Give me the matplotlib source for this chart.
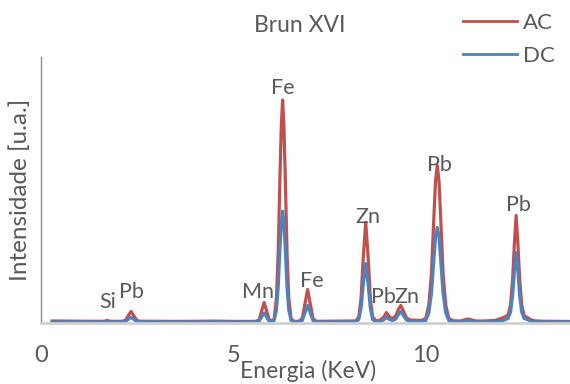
import matplotlib
matplotlib.use("Agg")
import matplotlib.pyplot as plt

plt.rcParams["font.family"] = ["Lato", "DejaVu Sans"]

TEXT = "#595959"
RED = "#C0504D"
BLUE = "#4F81BD"

# EDXRF spectrum sampled along the energy axis (keV), intensities in a.u.
energy = [
    0.29, 1.00, 1.50, 1.65, 1.72, 1.80, 2.10,
    2.14, 2.21, 2.28, 2.34, 2.40, 2.47, 2.54,
    3.00, 3.50, 4.00, 4.50, 5.00, 5.50,
    5.58, 5.67, 5.735, 5.80, 5.865, 5.93,
    6.00, 6.06, 6.12, 6.165, 6.21, 6.245, 6.28, 6.315, 6.35, 6.395, 6.44, 6.50, 6.58,
    6.70, 6.79, 6.855, 6.93, 7.005, 7.07, 7.16,
    7.50, 8.00,
    8.18, 8.26, 8.32, 8.375, 8.44, 8.505, 8.56, 8.62, 8.70,
    8.80, 8.90, 8.98, 9.06, 9.14, 9.22, 9.28, 9.35, 9.42, 9.50, 9.60,
    9.88, 10.00, 10.08, 10.15, 10.205, 10.255, 10.30, 10.345, 10.395, 10.45, 10.52, 10.60, 10.72,
    10.90, 11.10, 11.30, 11.50,
    11.80, 11.95, 12.05, 12.14, 12.205, 12.26, 12.305, 12.35, 12.395, 12.44, 12.495, 12.56, 12.64, 12.72, 12.82,
    13.00, 13.80,
]
ac = [
    20, 18, 17, 18, 25, 17, 17,
    18, 35, 80, 115, 80, 35, 18,
    17, 16, 17, 19, 16, 16,
    17, 30, 120, 205, 120, 35,
    17, 40, 250, 700, 1450, 1950, 2230, 1950, 1450, 700, 250, 40, 17,
    17, 45, 180, 335, 180, 45, 17,
    18, 20,
    20, 60, 250, 650, 1005, 650, 250, 60, 25,
    25, 55, 105, 60, 45, 70, 130, 175, 120, 50, 30,
    25, 45, 180, 500, 1000, 1420, 1575, 1420, 1000, 500, 180, 45, 22,
    20, 40, 20, 20,
    25, 45, 60, 80, 180, 450, 800, 1075, 800, 450, 180, 70, 55, 35, 22,
    18, 15,
]
dc = [
    10, 10, 10, 10, 12, 10, 10,
    12, 20, 40, 57, 40, 20, 12,
    10, 10, 10, 11, 10, 10,
    10, 18, 60, 100, 60, 18,
    10, 25, 130, 360, 740, 990, 1120, 990, 740, 360, 130, 25, 10,
    10, 25, 95, 175, 95, 25, 10,
    10, 11,
    11, 35, 150, 380, 595, 380, 150, 35, 12,
    12, 30, 55, 35, 25, 40, 80, 115, 75, 30, 15,
    12, 25, 100, 300, 600, 860, 955, 860, 600, 300, 100, 25, 12,
    10, 25, 10, 10,
    12, 20, 30, 45, 110, 280, 520, 705, 520, 280, 110, 45, 35, 20, 12,
    10, 10,
]

# Element annotations: (label, x in keV, y in a.u.)
peak_labels = ["Si", "Pb", "Mn", "Fe", "Fe", "Zn", "Pb", "Zn", "Pb", "Pb"]
label_x = [1.73, 2.36, 5.63, 6.29, 7.03, 8.49, 8.91, 9.51, 10.35, 12.40]
label_y = [210, 310, 310, 2350, 420, 1060, 260, 260, 1580, 1180]

x_ticks = [0, 5, 10]

fig = plt.figure(figsize=(5.70, 3.84), dpi=100)
ax = fig.add_axes([41 / 570, 1 - 323 / 384, 1 - 41 / 570, 266 / 384])

ax.plot(energy, ac, color=RED, lw=2.3, label="AC", solid_joinstyle="round")
ax.plot(energy, dc, color=BLUE, lw=2.3, label="DC", solid_joinstyle="round")

for txt, x, y in zip(peak_labels, label_x, label_y):
    ax.text(x, y, txt, ha="center", va="center", fontsize=15.5, color=TEXT)

ax.set_xlim(0, 13.75)
ax.set_ylim(0, 2660)
ax.set_xticks(x_ticks)
ax.set_xticklabels([str(t) for t in x_ticks])
ax.set_yticks([])
ax.tick_params(axis="x", length=0, pad=16, labelsize=17, labelcolor=TEXT)

for side in ("top", "right"):
    ax.spines[side].set_visible(False)
ax.spines["left"].set_color("#8c8c8c")
ax.spines["left"].set_linewidth(1.0)
ax.spines["bottom"].set_color("#d0d0d0")
ax.spines["bottom"].set_linewidth(2.0)

ax.set_xlabel("Energia (KeV)", fontsize=16.5, color=TEXT)
ax.xaxis.label.set_va("center")
ax.xaxis.set_label_coords(0.505, -0.182)
ax.set_ylabel("Intensidade [u.a.]", fontsize=17.5, color=TEXT)
ax.yaxis.label.set_va("center")
ax.yaxis.set_label_coords(-0.040, 0.5)

fig.text(300 / 570, 1 - 25 / 384, "Brun XVI", ha="center", va="center",
         fontsize=16.5, color=TEXT)

leg = fig.legend(loc="upper left", bbox_to_anchor=(447 / 570, 1 + 3 / 384),
                 frameon=False, fontsize=16, handlelength=2.45, handletextpad=0.25,
                 labelspacing=0.6, borderpad=0.2)
for t in leg.get_texts():
    t.set_color(TEXT)
for h in leg.legend_handles:
    h.set_linewidth(2.0)

fig.savefig("out.png", dpi=100)
